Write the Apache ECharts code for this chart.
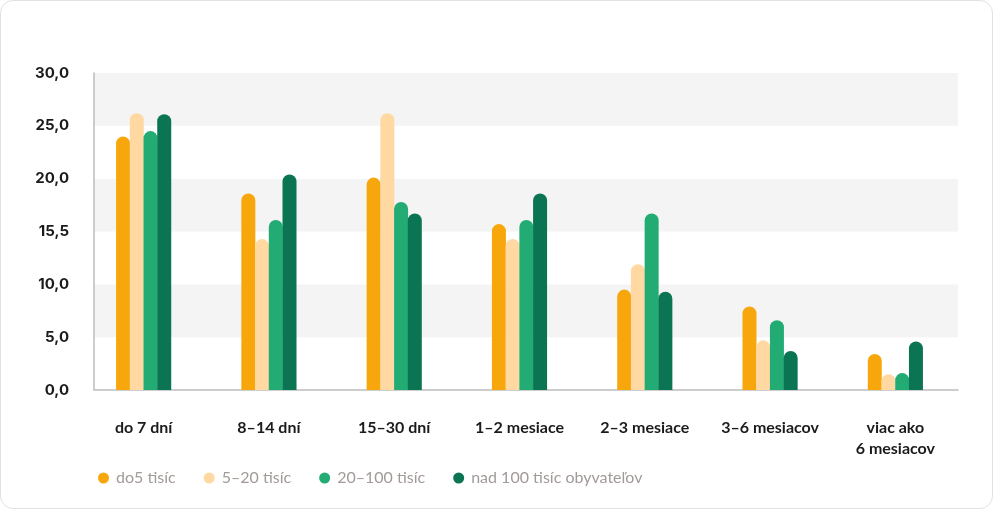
<!DOCTYPE html>
<html>
<head>
<meta charset="utf-8">
<script src="https://cdn.jsdelivr.net/npm/echarts@6/dist/echarts.min.js"></script>
<style>
html,body{margin:0;padding:0;background:#fff;}
#card{position:absolute;left:0;top:0;width:991px;height:507px;border:1px solid #e2e2e2;border-radius:13px;background:#fff;overflow:hidden;}
#chart{width:991px;height:507px;}
</style>
</head>
<body>
<div id="card"><div id="chart"></div></div>
<script>
// kategórie a hodnoty
var kategorie = ['do 7 dní', '8–14 dní', '15–30 dní', '1–2 mesiace', '2–3 mesiace', '3–6 mesiacov', 'viac ako\n6 mesiacov'];
var nazvy = ['do5 tisíc', '5–20 tisíc', '20–100 tisíc', 'nad 100 tisíc obyvateľov'];
var farby = ['#F7A70C', '#FFD9A1', '#22AC74', '#0B7553'];
var do5 = [24.0, 18.6, 20.1, 15.7, 9.5, 7.9, 3.4];
var od5do20 = [26.2, 14.3, 26.2, 14.3, 11.9, 4.7, 1.5];
var od20do100 = [24.5, 16.1, 17.8, 16.1, 16.7, 6.6, 1.6];
var nad100 = [26.1, 20.4, 16.7, 18.6, 9.3, 3.7, 4.6];
var yTicks = ['0,0', '5,0', '10,0', '15,5', '20,0', '25,0', '30,0'];

var hodnoty = [do5, od5do20, od20do100, nad100];
var series = [];
for (var i = 0; i < hodnoty.length; i++) {
  series.push({
    name: nazvy[i],
    type: 'bar',
    xAxisIndex: 1,
    yAxisIndex: 1,
    data: hodnoty[i],
    barWidth: 14,
    barGap: '-2%',
    itemStyle: { color: farby[i], borderRadius: [7, 7, 0, 0] }
  });
}

var myChart = echarts.init(document.getElementById('chart'));
myChart.setOption({
  animation: false,
  legend: {
    data: nazvy,
    left: 92,
    top: 464,
    icon: 'circle',
    itemWidth: 11,
    itemHeight: 11,
    itemGap: 28,
    textStyle: { color: '#a19a98', fontSize: 16, fontFamily: 'Lato', padding: [0, 0, 0, 2] }
  },
  grid: [
    { left: 93, right: 34, top: 72, bottom: 118 },
    { left: 80, right: 34, top: 72, bottom: 118 }
  ],
  xAxis: [
    {
      gridIndex: 0, type: 'category', data: kategorie,
      axisLine: { lineStyle: { color: '#bdbdbd', width: 1.5 } },
      axisTick: { show: false }, axisLabel: { show: false }
    },
    {
      gridIndex: 1, type: 'category', data: kategorie,
      axisLine: { show: false }, axisTick: { show: false },
      axisLabel: {
        margin: 27, color: '#1b1b1b', fontSize: 16, fontWeight: 'bold',
        fontFamily: 'Lato', lineHeight: 21, interval: 0
      }
    }
  ],
  yAxis: [
    {
      gridIndex: 0, type: 'value', min: 0, max: 30, interval: 5,
      axisLine: { show: true, lineStyle: { color: '#bdbdbd', width: 1.5 } },
      axisTick: { show: false },
      splitLine: { show: false },
      splitArea: { show: true, areaStyle: { color: ['#ffffff', '#f4f4f4'] } },
      axisLabel: {
        margin: 25, color: '#1b1b1b', fontSize: 15, fontWeight: 'bold', fontFamily: 'Inter',
        formatter: function (v) { return yTicks[v / 5]; }
      }
    },
    {
      gridIndex: 1, type: 'value', min: 0, max: 30, interval: 5, show: false
    }
  ],
  series: series
});
</script>
</body>
</html>
